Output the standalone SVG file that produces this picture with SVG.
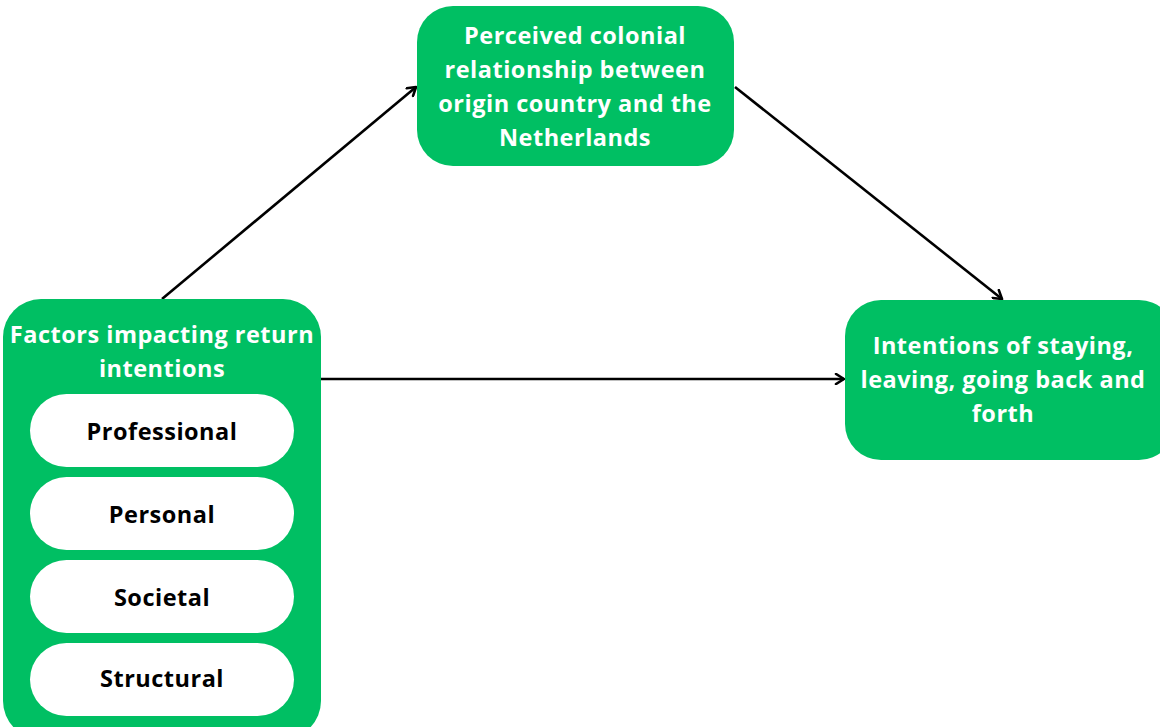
<svg xmlns="http://www.w3.org/2000/svg" width="1160" height="727" viewBox="0 0 1160 727">
<defs>
<marker id="arr" viewBox="0 0 12 12" refX="10" refY="6" markerWidth="12" markerHeight="12" markerUnits="userSpaceOnUse" orient="auto">
<path d="M2,1 L10,6 L2,11" fill="none" stroke="#000" stroke-width="2.6" stroke-linecap="round" stroke-linejoin="round"/>
</marker>
<style>
.box{fill:#00BF63}
.pill{fill:#fff}
.wt{font-family:"Open Sans","Noto Sans",sans-serif;font-weight:700;font-size:23.5px;letter-spacing:0.5px;fill:#fff;text-anchor:middle;dominant-baseline:central}
.bt{font-family:"Open Sans","Noto Sans",sans-serif;font-weight:700;font-size:23.5px;letter-spacing:0.5px;fill:#000;text-anchor:middle;dominant-baseline:central}
.con{stroke:#000;stroke-width:2.6;fill:none;marker-end:url(#arr)}
</style>
</defs>
<rect width="1160" height="727" fill="#fff"/>
<g id="connectors">
<line class="con" x1="162" y1="299" x2="416" y2="87"/>
<line class="con" x1="735" y1="87" x2="1002" y2="299"/>
<line class="con" x1="321" y1="379" x2="844" y2="379"/>
</g>
<g id="factors">
<rect class="box" x="3" y="299" width="318" height="440" rx="38"/>
<text class="wt" x="162" y="334">Factors impacting return</text>
<text class="wt" x="162" y="368">intentions</text>
</g>
<g id="professional">
<rect class="pill" x="30" y="394" width="264" height="73" rx="36.5"/>
<text class="bt" x="162" y="431">Professional</text>
</g>
<g id="personal">
<rect class="pill" x="30" y="477" width="264" height="73" rx="36.5"/>
<text class="bt" x="162" y="514">Personal</text>
</g>
<g id="societal">
<rect class="pill" x="30" y="560" width="264" height="73" rx="36.5"/>
<text class="bt" x="162" y="597">Societal</text>
</g>
<g id="structural">
<rect class="pill" x="30" y="643" width="264" height="73" rx="36.5"/>
<text class="bt" x="162" y="678">Structural</text>
</g>
<g id="colonial">
<rect class="box" x="417" y="6" width="317" height="160" rx="36"/>
<text class="wt" x="575" y="35">Perceived colonial</text>
<text class="wt" x="575" y="69">relationship between</text>
<text class="wt" x="575" y="103">origin country and the</text>
<text class="wt" x="575" y="137">Netherlands</text>
</g>
<g id="intentions">
<rect class="box" x="845" y="300" width="330" height="160" rx="36"/>
<text class="wt" x="1003" y="345">Intentions of staying,</text>
<text class="wt" x="1003" y="379">leaving, going back and</text>
<text class="wt" x="1003" y="413">forth</text>
</g>
</svg>
